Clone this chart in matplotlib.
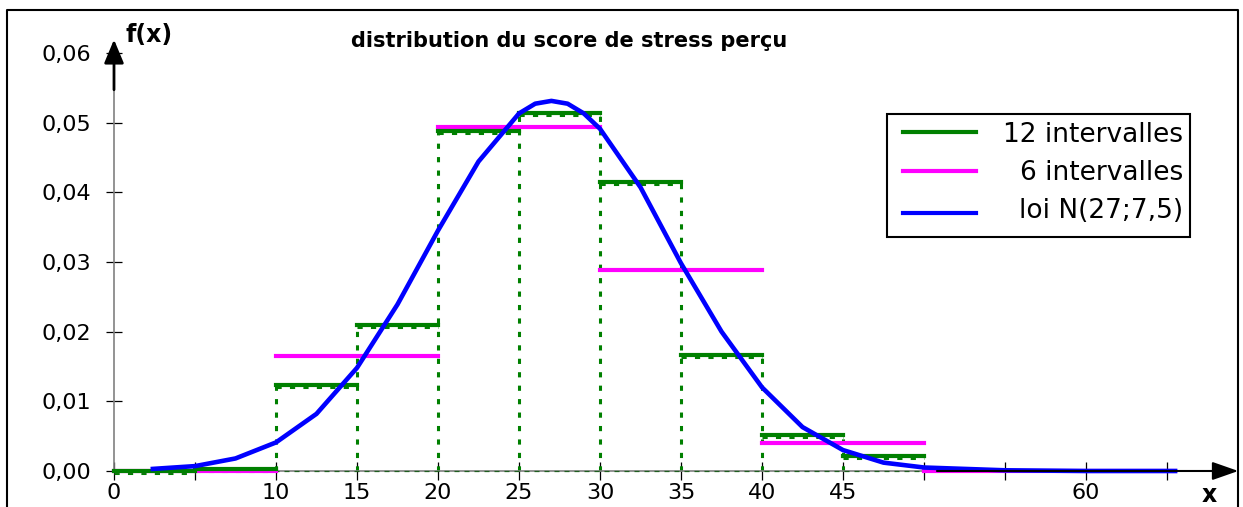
import matplotlib
matplotlib.use("Agg")
import matplotlib.pyplot as plt
from matplotlib.lines import Line2D
from matplotlib.patches import Rectangle
from matplotlib.transforms import offset_copy

# histogram with 12 classes of width 5 (density per unit of score)
edges_12 = [0, 5, 10, 15, 20, 25, 30, 35, 40, 45, 50]
dens_12 = [0.0000, 0.0003, 0.0123, 0.0209, 0.0488, 0.0513, 0.0415, 0.0166, 0.0051, 0.0022]

# histogram with 6 classes
edges_6 = [0, 10, 20, 30, 40, 50, 65.5]
dens_6 = [0.0000, 0.0165, 0.0494, 0.0288, 0.0040, 0.0000]

# normal density N(27; 7,5)
x_norm = [2.4, 5, 7.5, 10, 12.5, 15, 17.5, 20, 22.5, 25, 26, 27, 28, 29, 30,
          32.5, 35, 37.5, 40, 42.5, 45, 47.5, 50, 55, 60, 65.5]
f_norm = [0.0003, 0.0007, 0.0018, 0.0041, 0.0082, 0.0148, 0.0239, 0.0345, 0.0444, 0.0513,
          0.0527, 0.0531, 0.0527, 0.0513, 0.0491, 0.0407, 0.0298, 0.0200, 0.0120, 0.0063,
          0.0030, 0.0012, 0.0005, 0.0001, 0.0000, 0.0000]

x_ticks = [0, 5, 10, 15, 20, 25, 30, 35, 40, 45, 50, 55, 60, 65]
x_ticklabels = ["0", "", "10", "15", "20", "25", "30", "35", "40", "45", "", "", "60", ""]
y_ticks = [0.00, 0.01, 0.02, 0.03, 0.04, 0.05, 0.06]

title = "distribution du score de stress perçu"
legend_labels = ["12 intervalles", "6 intervalles", "loi N(27;7,5)"]

GREEN = "#008000"
MAGENTA = "#ff00ff"
BLUE = "#0000ff"
DOT = (0, (1.7, 2.7))

W, H, DPI = 1243, 507, 100
plt.rcParams["font.family"] = ["DejaVu Sans"]


def fig_xy(x, y):
    # pixel position (origin top-left) -> figure fraction
    return x / W, 1 - y / H


fig = plt.figure(figsize=(W / DPI, H / DPI), dpi=DPI)
ax = fig.add_axes([105.9 / W, 15.1 / H, 1134 / W, 460 / H])
ax.set_xlim(-0.5, 69.5)
ax.set_ylim(-0.003, 0.063)

# axes through the origin
ax.spines["top"].set_visible(False)
ax.spines["right"].set_visible(False)
ax.spines["left"].set_position(("data", 0))
ax.spines["bottom"].set_position(("data", 0))
ax.spines["left"].set_bounds(0, 0.0547)
ax.spines["bottom"].set_bounds(0, 51)
for s in ["left", "bottom"]:
    ax.spines[s].set_color("#808080")
    ax.spines[s].set_linewidth(1.2)

ax.set_xticks(x_ticks, x_ticklabels)
ax.set_yticks(y_ticks, [f"{v:.2f}".replace(".", ",") for v in y_ticks])
ax.tick_params(axis="x", direction="inout", length=13, width=0.9, pad=2, labelsize=16)
ax.tick_params(axis="y", direction="inout", length=11.5, width=0.9, pad=10.8, labelsize=16)

# dotted outline of the 12-class histogram
low = offset_copy(ax.transData, fig=fig, y=-2, units="dots")
for a, b, h in zip(edges_12[:-1], edges_12[1:], dens_12):
    ax.plot([a, b], [h, h], color=GREEN, lw=2.2, ls=DOT, transform=low, zorder=2)
for i, b in enumerate(edges_12):
    left = dens_12[i - 1] if i > 0 else 0
    right = dens_12[i] if i < len(dens_12) else 0
    top = max(left, right)
    if top > 0:
        ax.plot([b, b], [0, top], color=GREEN, lw=2.2, ls=DOT, zorder=2)
ax.plot([edges_12[0], edges_12[-1]], [0, 0], color="#1f5f1f", lw=0.9,
        ls=(0, (4, 4)), zorder=2.6)

# class densities as horizontal segments
for a, b, h in zip(edges_6[:-1], edges_6[1:], dens_6):
    ax.plot([a, b], [h, h], color=MAGENTA, lw=3, solid_capstyle="projecting", zorder=3)
for a, b, h in zip(edges_12[:-1], edges_12[1:], dens_12):
    ax.plot([a, b], [h, h], color=GREEN, lw=3, solid_capstyle="projecting", zorder=4)

ax.plot(x_norm, f_norm, color=BLUE, lw=3.3, solid_joinstyle="round", zorder=5)

# arrow heads of both axes
ax.annotate("", xy=(69.4, 0), xytext=(50.8, 0), annotation_clip=False, zorder=6,
            arrowprops=dict(arrowstyle="-|>,head_length=0.8,head_width=0.28", color="black",
                            lw=1.5, mutation_scale=20, shrinkA=0, shrinkB=0))
ax.annotate("", xy=(0, 0.0619), xytext=(0, 0.0547), annotation_clip=False, zorder=6,
            arrowprops=dict(arrowstyle="-|>,head_length=0.72,head_width=0.3", color="black",
                            lw=2, mutation_scale=20, shrinkA=0, shrinkB=0))

fig.text(*fig_xy(569, 47), title, ha="center", va="baseline", fontsize=15, fontweight="bold")
fig.text(*fig_xy(125, 42), "f(x)", ha="left", va="baseline", fontsize=17, fontweight="bold")
fig.text(*fig_xy(1209, 502), "x", ha="center", va="baseline", fontsize=17, fontweight="bold")

# legend box, entries right aligned
bx, by = fig_xy(887, 237)
fig.add_artist(Rectangle((bx, by), 303 / W, 123 / H, transform=fig.transFigure,
                         fill=False, ec="black", lw=1.5))
for label, color, y_line, y_text in zip(legend_labels, [GREEN, MAGENTA, BLUE],
                                        [131.5, 171, 213], [141.5, 180, 218]):
    fig.add_artist(Line2D([903 / W, 976 / W], [1 - y_line / H] * 2, color=color, lw=3))
    fig.text(*fig_xy(1183, y_text), label, ha="right", va="baseline", fontsize=19)

# outer frame
fig.add_artist(Line2D([7 / W, 7 / W, 1238 / W, 1238 / W], [0, 1 - 10 / H, 1 - 10 / H, 0],
                      color="black", lw=1.5))

fig.savefig("out.png", dpi=DPI)
